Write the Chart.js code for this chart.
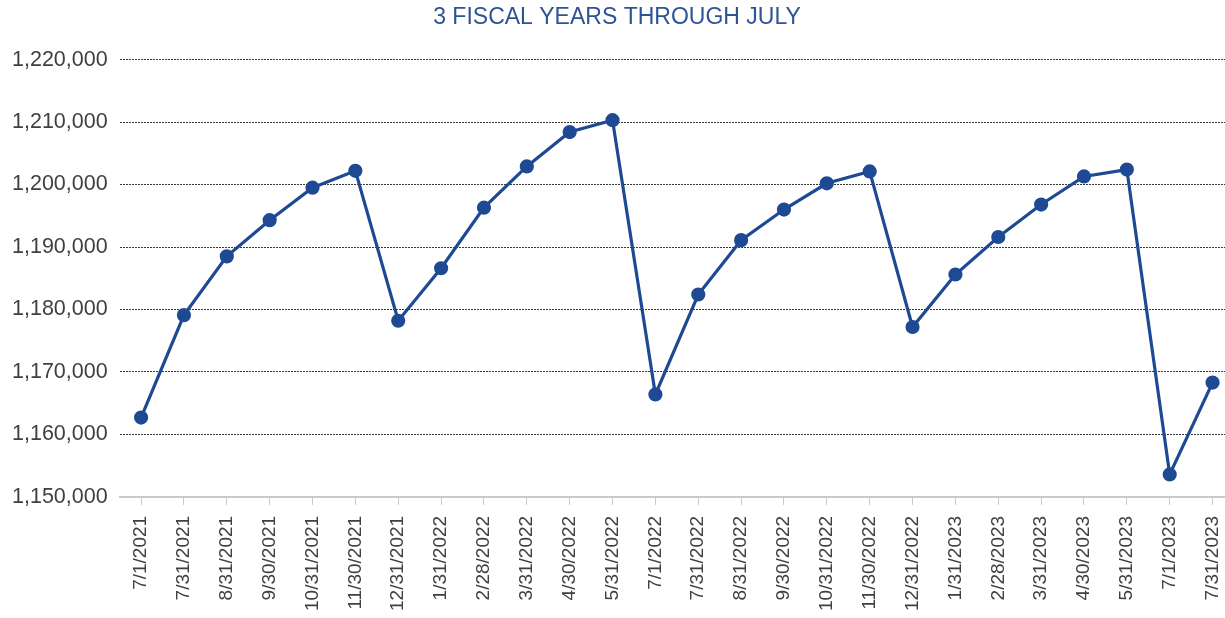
<!DOCTYPE html>
<html>
<head>
<meta charset="utf-8">
<script src="https://cdn.jsdelivr.net/npm/chart.js@4/dist/chart.umd.min.js"></script>
<style>
  html, body { margin: 0; padding: 0; background: #fff; overflow: hidden; }
  /* холст чуть шире окна: справа график обрезан, как на исходнике */
  #wrap { width: 1234px; height: 618px; position: relative; }
</style>
</head>
<body>
<div id="wrap"><canvas id="chart"></canvas></div>
<script>
// Даты (ось X)
const dates = [
  '7/1/2021', '7/31/2021', '8/31/2021', '9/30/2021', '10/31/2021', '11/30/2021',
  '12/31/2021', '1/31/2022', '2/28/2022', '3/31/2022', '4/30/2022', '5/31/2022',
  '7/1/2022', '7/31/2022', '8/31/2022', '9/30/2022', '10/31/2022', '11/30/2022',
  '12/31/2022', '1/31/2023', '2/28/2023', '3/31/2023', '4/30/2023', '5/31/2023',
  '7/1/2023', '7/31/2023',
];

// Значения
const values = [
  1162700, 1179100, 1188500, 1194300, 1199500, 1202200,
  1178200, 1186600, 1196300, 1202900, 1208400, 1210300,
  1166400, 1182400, 1191100, 1196000, 1200200, 1202100,
  1177200, 1185600, 1191600, 1196800, 1201300, 1202400,
  1153600, 1168300,
];

const yMin = 1150000;
const yMax = 1220000;
const yStep = 10000;

const title = '3 FISCAL YEARS THROUGH JULY';

const lineColor = 'rgba(30, 74, 148, 1)';
const fontFamily = "'Liberation Sans', Arial, sans-serif";

Chart.defaults.font.family = fontFamily;

const chartInstance = new Chart(document.getElementById('chart'), {
  type: 'line',
  data: {
    labels: dates,
    datasets: [
      {
        data: values,
        borderColor: lineColor,
        backgroundColor: lineColor,
        borderWidth: 3.2,
        pointRadius: 5.5,
        pointHoverRadius: 5.5,
        tension: 0,
      },
    ],
  },
  options: {
    responsive: true,
    maintainAspectRatio: false,
    animation: false,
    layout: {
      autoPadding: false,
      padding: { left: 0, right: 0, top: 0, bottom: -4 },
    },
    plugins: {
      legend: { display: false },
      tooltip: { enabled: false },
      title: {
        display: true,
        text: title,
        color: 'rgba(46, 83, 150, 1)',
        font: { size: 23, weight: 'normal' },
        padding: { top: 4, bottom: 28 },
      },
    },
    scales: {
      x: {
        offset: true,
        // убираем запас под крайние подписи
        afterFit(scale) {
          scale.paddingLeft = 0;
          scale.paddingRight = 0;
        },
        ticks: {
          color: 'rgba(64, 64, 64, 1)',
          minRotation: 90,
          maxRotation: 90,
          autoSkip: false,
          padding: 11,
          font: { size: 19 },
        },
        grid: {
          drawOnChartArea: false,
          drawTicks: true,
          tickLength: 8,
          color: 'rgba(200, 200, 200, 1)',
        },
        border: {
          display: true,
          color: 'rgba(200, 200, 200, 1)',
          width: 2,
        },
      },
      y: {
        min: yMin,
        max: yMax,
        ticks: {
          stepSize: yStep,
          color: 'rgba(64, 64, 64, 1)',
          padding: 12,
          font: { size: 21.5 },
          callback: (value) => value.toLocaleString('en-US'),
        },
        grid: {
          drawTicks: false,
          color: (ctx) =>
            ctx.tick && ctx.tick.value === yMin
              ? 'rgba(200, 200, 200, 1)'
              : 'rgba(55, 55, 55, 1)',
        },
        border: {
          display: false,
          dash: [2, 1],
        },
      },
    },
  },
});
</script>
</body>
</html>
